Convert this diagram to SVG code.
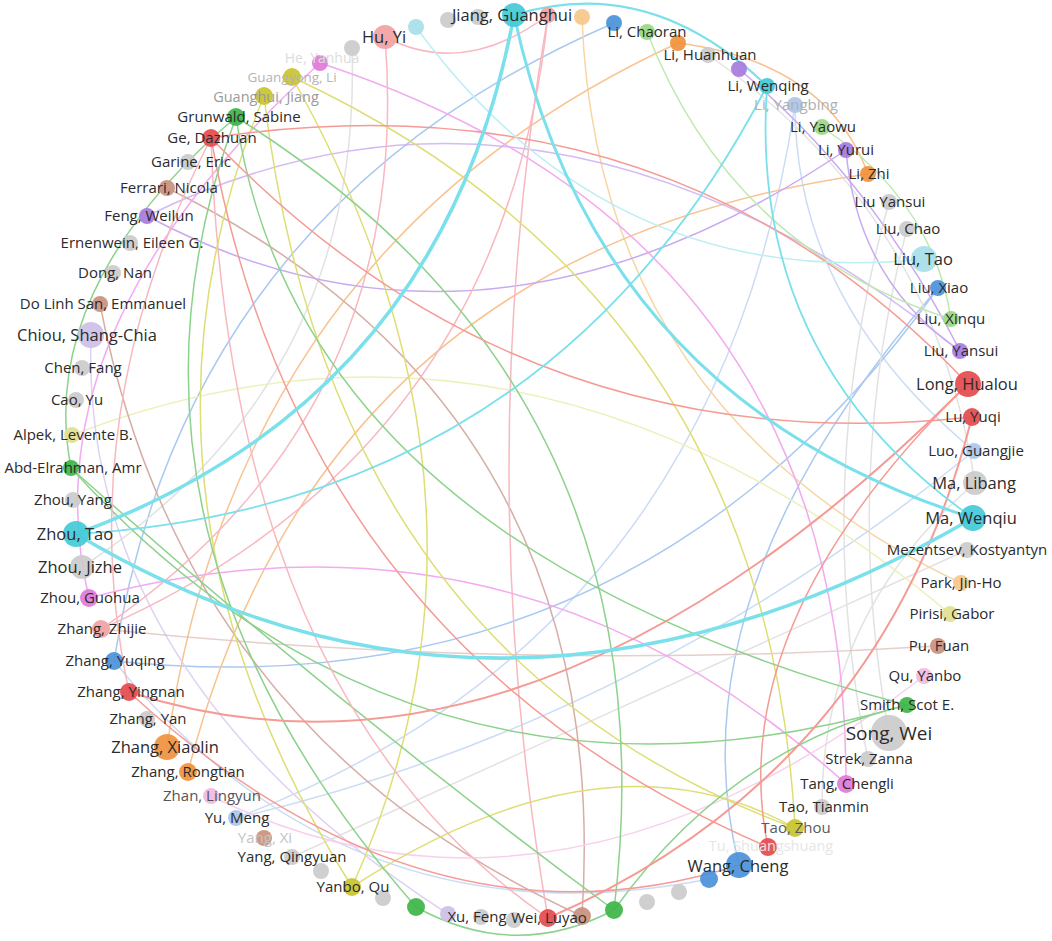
<svg xmlns="http://www.w3.org/2000/svg" width="1052" height="941" viewBox="0 0 1052 941">
<style>
.e{fill:none;stroke-width:1.5;stroke-linecap:round}
.ec{stroke:#7ae0eb}.elc{stroke:#bdeef4}.er{stroke:#f59b95}.ep{stroke:#f8b8c0}.eg{stroke:#8cd28c}.elg{stroke:#bfe9b0}
.ey{stroke:#dede74}.ely{stroke:#eef0bc}.eo{stroke:#f9c390}.epe{stroke:#f8d6a4}.eb{stroke:#aac9f1}.elb{stroke:#cbdcf4}
.epu{stroke:#c9aaf1}.em{stroke:#f3aaef}.elp{stroke:#f9d0eb}.ebr{stroke:#d6aea6}.egr{stroke:#e2e2e2}.ela{stroke:#ded2f2}
.n{stroke:none;opacity:.92}
.gy{fill:#cbcbcb}.cy{fill:#43cad8}.lc{fill:#a8dee8}.pk{fill:#f2a2a2}.rd{fill:#e44b4d}.gn{fill:#3db546}.lg{fill:#9bd882}
.yw{fill:#c8c431}.ly{fill:#e0e18f}.or{fill:#f0913c}.pe{fill:#f6c78b}.bl{fill:#4b91d9}.lb{fill:#abc5ea}.pu{fill:#a77ade}
.la{fill:#cdbfe7}.mg{fill:#df7ad9}.lp{fill:#f1b9e0}.br{fill:#c9917f}
.t{font-family:"Open Sans","Liberation Sans",sans-serif;font-size:15px;fill:#2b2b2b;text-anchor:middle}
.b{font-size:16.5px}.h{font-size:19px}
</style>
<g id="edges">
<path class="e elb" d="M236,818 Q635,725 974,451"/>
<path class="e elb" d="M795,105 Q714,638 236,818"/>
<path class="e elb" d="M795,105 Q795,302 974,451"/>
<path class="e elb" d="M114,661 Q349,950 709,879"/>
<path class="e eb" d="M739,865 Q671,594 938,288"/>
<path class="e eb" d="M614,23 Q186,208 114,661"/>
<path class="e eb" d="M114,661 Q634,715 938,288"/>
<path class="e egr" d="M292,857 Q629,703 967,550"/>
<path class="e egr" d="M822,807 Q821,615 975,483"/>
<path class="e egr" d="M907,229 Q842,479 889,733"/>
<path class="e egr" d="M889,202 Q811,480 868,759"/>
<path class="e egr" d="M708,55 Q934,211 975,483"/>
<path class="e egr" d="M352,48 Q363,383 82,567"/>
<path class="e ely" d="M72,435 Q529,260 950,614"/>
<path class="e epe" d="M582,17 Q596,410 961,583"/>
<path class="e eo" d="M678,43 Q827,62 868,174"/>
<path class="e eo" d="M167,747 Q237,245 678,43"/>
<path class="e eo" d="M188,772 Q322,251 868,174"/>
<path class="e ela" d="M91,335 Q80,676 448,914"/>
<path class="e ebr" d="M167,188 Q615,408 582,916"/>
<path class="e ebr" d="M100,304 Q183,734 582,916"/>
<path class="e ebr" style="stroke-opacity:.6" d="M101,629 Q520,672 938,646"/>
<path class="e epu" d="M147,216 Q483,395 846,150"/>
<path class="e epu" style="stroke-opacity:.8" d="M147,216 Q546,21 960,351"/>
<path class="e epu" d="M739,69 Q874,182 960,351"/>
<path class="e epu" d="M846,150 Q857,280 960,351"/>
<path class="e em" d="M320,63 Q847,236 846,784"/>
<path class="e em" d="M89,598 Q516,485 846,784"/>
<path class="e em" d="M89,598 Q25,330 320,63"/>
<path class="e elp" d="M211,796 Q552,964 924,676"/>
<path class="e ep" d="M385,37 Q415,415 101,629"/>
<path class="e ep" d="M385,37 Q464,78 548,15"/>
<path class="e ep" d="M548,15 Q470,470 548,918"/>
<path class="e ep" d="M101,629 Q503,452 548,15"/>
<path class="e ey" d="M292,77 Q767,298 795,828"/>
<path class="e ey" d="M264,96 Q102,488 352,887"/>
<path class="e ey" d="M292,77 Q528,498 352,887"/>
<path class="e ey" d="M264,96 Q330,658 795,828"/>
<path class="e ey" d="M352,887 Q606,722 795,828"/>
<path class="e eg" d="M71,468 Q417,848 907,705"/>
<path class="e eg" d="M236,117 Q677,393 614,910"/>
<path class="e eg" d="M236,117 Q84,528 416,907"/>
<path class="e eg" d="M236,117 Q300,545 907,705"/>
<path class="e eg" d="M71,468 Q330,700 614,910"/>
<path class="e eg" d="M71,468 Q36,288 236,117"/>
<path class="e eg" d="M416,907 Q515,962 614,910"/>
<path class="e eg" d="M907,705 Q730,748 614,910"/>
<path class="e elg" d="M647,32 Q731,249 951,319"/>
<path class="e elg" d="M822,127 Q933,201 951,319"/>
<path class="e er" d="M211,138 Q670,69 968,384"/>
<path class="e er" d="M211,138 Q524,466 972,417"/>
<path class="e er" d="M211,138 Q302,647 768,847"/>
<path class="e ep" d="M211,138 Q230,700 548,918"/>
<path class="e ep" d="M211,138 Q70,415 129,692"/>
<path class="e er" style="stroke-width:2" d="M129,692 Q531,822 968,384"/>
<path class="e er" d="M968,384 Q722,624 768,847"/>
<path class="e er" style="stroke-width:2" d="M972,417 Q882,772 548,918"/>
<path class="e er" d="M129,692 Q426,965 739,865"/>
<path class="e elc" d="M416,27 Q610,293 924,259"/>
<path class="e ec" style="stroke-width:3.5" d="M76,534 Q443,400 514,15"/>
<path class="e ec" style="stroke-width:3.5" d="M76,534 Q506,790 973,518"/>
<path class="e ec" style="stroke-width:3" d="M514,15 Q597,400 973,518"/>
<path class="e ec" style="stroke-width:1.8" d="M76,534 Q549,506 767,86"/>
<path class="e ec" style="stroke-width:1.8" d="M767,86 Q748,360 973,518"/>
<path class="e ec" style="stroke-width:2" d="M514,15 Q650,-27 767,86"/>
</g>
<g id="nodes">
<g id="n-g1"><circle class="n gy" cx="352" cy="48" r="8"/></g>
<g id="n-c1"><circle class="n lc" cx="416" cy="27" r="8"/></g>
<g id="n-g2"><circle class="n gy" cx="448" cy="20" r="8"/></g>
<g id="n-g3"><circle class="n gy" cx="478" cy="17" r="8"/></g>
<g id="n-p1"><circle class="n pk" cx="548" cy="15" r="8"/></g>
<g id="n-pe1"><circle class="n pe" cx="582" cy="17" r="8"/></g>
<g id="n-b2"><circle class="n bl" cx="614" cy="23" r="8"/></g>
<g id="n-o1"><circle class="n or" cx="678" cy="43" r="8"/></g>
<g id="n-pu1"><circle class="n pu" cx="739" cy="69" r="8"/></g>
<g id="n-b1"><circle class="n bl" cx="709" cy="879" r="9"/></g>
<g id="n-g4"><circle class="n gy" cx="679" cy="892" r="8"/></g>
<g id="n-g5"><circle class="n gy" cx="647" cy="902" r="8"/></g>
<g id="n-gr1"><circle class="n gn" cx="614" cy="910" r="9"/></g>
<g id="n-br1"><circle class="n br" cx="582" cy="916" r="9"/></g>
<g id="n-g6"><circle class="n gy" cx="514" cy="920" r="8"/></g>
<g id="n-la1"><circle class="n la" cx="448" cy="914" r="8"/></g>
<g id="n-gr2"><circle class="n gn" cx="416" cy="907" r="9"/></g>
<g id="n-g7"><circle class="n gy" cx="383" cy="898" r="8"/></g>
<g id="n-g8"><circle class="n gy" cx="321" cy="871" r="8"/></g>
<g id="n-heyanhua"><circle class="n mg" cx="320" cy="63" r="8"/><text class="t" x="322" y="63" style="fill:#dcdcdc;font-size:14px">He, Yanhua</text></g>
<g id="n-guangyong"><circle class="n yw" cx="292" cy="77" r="9"/><text class="t" x="292" y="82" style="fill:#b4b4b4;font-size:13.5px">Guangyong, Li</text></g>
<g id="n-guanghui"><circle class="n yw" cx="264" cy="96" r="9"/><text class="t" x="266" y="102" style="fill:#9a9a9a;font-size:14.5px">Guanghui, Jiang</text></g>
<g id="n-abd"><circle class="n gn" cx="71" cy="468" r="8"/><text class="t" x="73" y="473">Abd-Elrahman, Amr</text></g>
<g id="n-alpek"><circle class="n ly" cx="72" cy="435" r="8"/><text class="t" x="73" y="440">Alpek, Levente B.</text></g>
<g id="n-cao"><circle class="n gy" cx="76" cy="400" r="8"/><text class="t" x="77" y="405">Cao, Yu</text></g>
<g id="n-chen"><circle class="n gy" cx="82" cy="368" r="8"/><text class="t" x="83" y="373">Chen, Fang</text></g>
<g id="n-chiou"><circle class="n la" cx="91" cy="335" r="13"/><text class="t b" x="87" y="341">Chiou, Shang-Chia</text></g>
<g id="n-dolinh"><circle class="n br" cx="100" cy="304" r="8"/><text class="t" x="103" y="309">Do Linh San, Emmanuel</text></g>
<g id="n-dong"><circle class="n gy" cx="113" cy="273" r="8"/><text class="t" x="115" y="278">Dong, Nan</text></g>
<g id="n-ernenwein"><circle class="n gy" cx="130" cy="243" r="8"/><text class="t" x="132" y="248">Ernenwein, Eileen G.</text></g>
<g id="n-feng"><circle class="n pu" cx="147" cy="216" r="8"/><text class="t" x="149" y="221">Feng, Weilun</text></g>
<g id="n-ferrari"><circle class="n br" cx="167" cy="188" r="8"/><text class="t" x="169" y="193">Ferrari, Nicola</text></g>
<g id="n-garine"><circle class="n gy" cx="188" cy="162" r="8"/><text class="t" x="191" y="167">Garine, Eric</text></g>
<g id="n-ge"><circle class="n rd" cx="211" cy="138" r="9"/><text class="t" x="212" y="143">Ge, Dazhuan</text></g>
<g id="n-grunwald"><circle class="n gn" cx="236" cy="117" r="9"/><text class="t" x="239" y="122">Grunwald, Sabine</text></g>
<g id="n-huyi"><circle class="n pk" cx="385" cy="37" r="12"/><text class="t b" x="384" y="43">Hu, Yi</text></g>
<g id="n-jiang"><circle class="n cy" cx="514" cy="15" r="12"/><text class="t b" x="512" y="21">Jiang, Guanghui</text></g>
<g id="n-lichaoran"><circle class="n lg" cx="647" cy="32" r="8"/><text class="t" x="647" y="37">Li, Chaoran</text></g>
<g id="n-lihuanhuan"><circle class="n gy" cx="708" cy="55" r="8"/><text class="t" x="710" y="60">Li, Huanhuan</text></g>
<g id="n-liwenqing"><circle class="n cy" cx="767" cy="86" r="8"/><text class="t" x="768" y="91">Li, Wenqing</text></g>
<g id="n-liyangbing"><circle class="n lb" cx="795" cy="105" r="8"/><text class="t" x="796" y="110" style="fill:#b0b0b0">Li, Yangbing</text></g>
<g id="n-liyaowu"><circle class="n lg" cx="822" cy="127" r="8"/><text class="t" x="823" y="132">Li, Yaowu</text></g>
<g id="n-liyurui"><circle class="n pu" cx="846" cy="150" r="8"/><text class="t" x="846" y="155">Li, Yurui</text></g>
<g id="n-lizhi"><circle class="n or" cx="868" cy="174" r="8"/><text class="t" x="869" y="179">Li, Zhi</text></g>
<g id="n-liuyansui1"><circle class="n gy" cx="889" cy="202" r="8"/><text class="t" x="890" y="207">Liu Yansui</text></g>
<g id="n-liuchao"><circle class="n gy" cx="907" cy="229" r="8"/><text class="t" x="908" y="234">Liu, Chao</text></g>
<g id="n-liutao"><circle class="n lc" cx="924" cy="259" r="13"/><text class="t b" x="923" y="265">Liu, Tao</text></g>
<g id="n-liuxiao"><circle class="n bl" cx="938" cy="288" r="8"/><text class="t" x="939" y="293">Liu, Xiao</text></g>
<g id="n-liuxinqu"><circle class="n lg" cx="951" cy="319" r="8"/><text class="t" x="951" y="324">Liu, Xinqu</text></g>
<g id="n-liuyansui2"><circle class="n pu" cx="960" cy="351" r="8"/><text class="t" x="961" y="356">Liu, Yansui</text></g>
<g id="n-long"><circle class="n rd" cx="968" cy="384" r="13"/><text class="t b" x="967" y="390">Long, Hualou</text></g>
<g id="n-luyuqi"><circle class="n rd" cx="972" cy="417" r="9"/><text class="t" x="973" y="422">Lu, Yuqi</text></g>
<g id="n-luo"><circle class="n lb" cx="974" cy="451" r="8"/><text class="t" x="976" y="456">Luo, Guangjie</text></g>
<g id="n-malibang"><circle class="n gy" cx="975" cy="483" r="12"/><text class="t b" x="974" y="489">Ma, Libang</text></g>
<g id="n-mawenqiu"><circle class="n cy" cx="973" cy="518" r="13"/><text class="t b" x="971" y="524">Ma, Wenqiu</text></g>
<g id="n-mezentsev"><circle class="n gy" cx="967" cy="550" r="8"/><text class="t" x="967" y="555">Mezentsev, Kostyantyn</text></g>
<g id="n-park"><circle class="n pe" cx="961" cy="583" r="8"/><text class="t" x="961" y="588">Park, Jin-Ho</text></g>
<g id="n-pirisi"><circle class="n ly" cx="950" cy="614" r="8"/><text class="t" x="952" y="619">Pirisi, Gabor</text></g>
<g id="n-pufuan"><circle class="n br" cx="938" cy="646" r="8"/><text class="t" x="939" y="651">Pu, Fuan</text></g>
<g id="n-quyanbo"><circle class="n lp" cx="924" cy="676" r="8"/><text class="t" x="925" y="681">Qu, Yanbo</text></g>
<g id="n-smith"><circle class="n gn" cx="907" cy="705" r="8"/><text class="t" x="907" y="710">Smith, Scot E.</text></g>
<g id="n-songwei"><circle class="n gy" cx="889" cy="733" r="18"/><text class="t h" x="889" y="740">Song, Wei</text></g>
<g id="n-strek"><circle class="n gy" cx="868" cy="759" r="8"/><text class="t" x="869" y="764">Strek, Zanna</text></g>
<g id="n-tang"><circle class="n mg" cx="846" cy="784" r="9"/><text class="t" x="847" y="789">Tang, Chengli</text></g>
<g id="n-taotianmin"><circle class="n gy" cx="822" cy="807" r="8"/><text class="t" x="824" y="812">Tao, Tianmin</text></g>
<g id="n-taozhou"><circle class="n yw" cx="795" cy="828" r="9"/><text class="t" x="796" y="833" style="fill:#5a5a5a">Tao, Zhou</text></g>
<g id="n-tu"><circle class="n rd" cx="768" cy="847" r="9"/><text class="t" x="771" y="851" style="fill:#e6e6e6;font-size:14.5px">Tu, Shuangshuang</text></g>
<g id="n-wangcheng"><circle class="n bl" cx="739" cy="865" r="13"/><text class="t b" x="738" y="872">Wang, Cheng</text></g>
<g id="n-weiluyao"><circle class="n rd" cx="548" cy="918" r="9"/><text class="t" x="549" y="923">Wei, Luyao</text></g>
<g id="n-xufeng"><circle class="n gy" cx="481" cy="917" r="8"/><text class="t" x="477" y="922">Xu, Feng</text></g>
<g id="n-yanboqu"><circle class="n yw" cx="352" cy="887" r="9"/><text class="t" x="353" y="892">Yanbo, Qu</text></g>
<g id="n-yangqingyuan"><circle class="n gy" cx="292" cy="857" r="8"/><text class="t" x="292" y="862">Yang, Qingyuan</text></g>
<g id="n-yangxi"><circle class="n br" cx="264" cy="838" r="8"/><text class="t" x="265" y="843" style="fill:#c4c4c4">Yang, Xi</text></g>
<g id="n-yumeng"><circle class="n lb" cx="236" cy="818" r="8"/><text class="t" x="237" y="823">Yu, Meng</text></g>
<g id="n-zhan"><circle class="n lp" cx="211" cy="796" r="8"/><text class="t" x="212" y="801" style="fill:#555">Zhan, Lingyun</text></g>
<g id="n-zhangrongtian"><circle class="n or" cx="188" cy="772" r="9"/><text class="t" x="188" y="777">Zhang, Rongtian</text></g>
<g id="n-zhangxiaolin"><circle class="n or" cx="167" cy="747" r="13"/><text class="t b" x="165" y="753">Zhang, Xiaolin</text></g>
<g id="n-zhangyan"><circle class="n gy" cx="147" cy="719" r="8"/><text class="t" x="148" y="724">Zhang, Yan</text></g>
<g id="n-zhangyingnan"><circle class="n rd" cx="129" cy="692" r="9"/><text class="t" x="131" y="697">Zhang, Yingnan</text></g>
<g id="n-zhangyuqing"><circle class="n bl" cx="114" cy="661" r="9"/><text class="t" x="115" y="666">Zhang, Yuqing</text></g>
<g id="n-zhangzhijie"><circle class="n pk" cx="101" cy="629" r="9"/><text class="t" x="102" y="634">Zhang, Zhijie</text></g>
<g id="n-zhouguohua"><circle class="n mg" cx="89" cy="598" r="9"/><text class="t" x="90" y="603">Zhou, Guohua</text></g>
<g id="n-zhoujizhe"><circle class="n gy" cx="82" cy="567" r="12"/><text class="t b" x="80" y="573">Zhou, Jizhe</text></g>
<g id="n-zhoutao"><circle class="n cy" cx="76" cy="534" r="13"/><text class="t b" x="75" y="540">Zhou, Tao</text></g>
<g id="n-zhouyang"><circle class="n gy" cx="73" cy="500" r="8"/><text class="t" x="73" y="505">Zhou, Yang</text></g>
</g>
</svg>
